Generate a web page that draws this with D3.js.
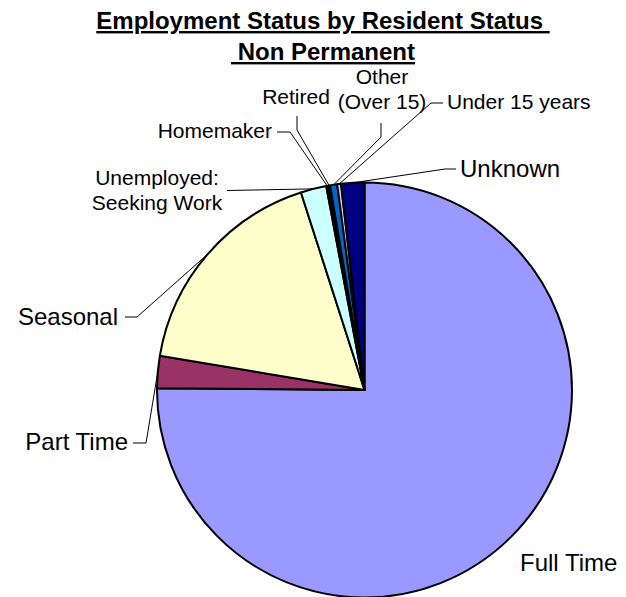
<!doctype html><html><head>
<style>
  body { margin: 0; background: #fff; }
  text { font-family: "Liberation Sans", Arial, sans-serif; fill: #000; }
</style>
</head><body><script src='https://d3js.org/d3.v7.min.js'></script>

<script>
// Size of the page
const width = 626, height = 597;

// Data (percent of non permanent residents)
const categories = ["Full Time", "Part Time", "Seasonal", "Unemployed: Seeking Work",
                    "Homemaker", "Retired", "Other (Over 15)", "Under 15 years", "Unknown"];
const values     = [75.1, 2.5, 17.4, 2.0, 0.15, 0.15, 0.55, 0.3, 1.8];
const colors     = ["#9999FF", "#993366", "#FFFFCC", "#CCFFFF",
                    "#660066", "#FF8080", "#0066CC", "#CCCCFF", "#000080"];
const titleLines = ["Employment Status by Resident Status ", " Non Permanent"];

// label layout: text lines, where they sit and the elbow of the leader line
const labelLayout = {
  "Full Time":                { lines: ["Full Time"], x: 520, y: 571, anchor: "start", big: true, leader: null },
  "Part Time":                { lines: ["Part Time"], x: 128, y: 450, anchor: "end", big: true, leader: [[133, 443], [146, 443]] },
  "Seasonal":                 { lines: ["Seasonal"], x: 118, y: 325, anchor: "end", big: true, leader: [[125, 317], [137, 317]] },
  "Unemployed: Seeking Work": { lines: ["Unemployed:", "Seeking Work"], x: 157, y: 185, anchor: "middle", big: false, leader: [[227, 190.5]] },
  "Homemaker":                { lines: ["Homemaker"], x: 272, y: 138, anchor: "end", big: false, leader: [[277, 132], [290, 132]] },
  "Retired":                  { lines: ["Retired"], x: 296, y: 104, anchor: "middle", big: false, leader: [[297, 116], [297, 130]] },
  "Other (Over 15)":          { lines: ["Other", "(Over 15)"], x: 382, y: 84, anchor: "middle", big: false, leader: [[381, 123], [381, 137]] },
  "Under 15 years":           { lines: ["Under 15 years"], x: 447, y: 109, anchor: "start", big: false, leader: [[443, 103], [431, 103]] },
  "Unknown":                  { lines: ["Unknown"], x: 460, y: 177, anchor: "start", big: true, leader: [[456, 169], [445, 169]] }
};

const cx = 364.5, cy = 390, radius = 207.5;

const svg = d3.select("body")
              .append("svg")
              .attr("width", width)
              .attr("height", height);

// Title
svg.append("g")
   .selectAll("text")
   .data(titleLines)
   .join("text")
   .attr("x", 323)
   .attr("y", (d, i) => 29 + i * 31)
   .attr("text-anchor", "middle")
   .style("white-space", "pre")
   .style("font-weight", "bold")
   .style("font-size", "24px")
   .style("text-decoration", "underline")
   .text(d => d);

// Pie, starting at 12 o'clock going clockwise
const table = categories.map((c, i) => ({ name: c, value: values[i], color: colors[i] }));
const pie = d3.pie().sort(null).value(d => d.value);
const arcs = pie(table);

const arc = d3.arc().innerRadius(0).outerRadius(radius);
const edge = d3.arc().innerRadius(radius).outerRadius(radius);

const g = svg.append("g").attr("transform", `translate(${cx},${cy})`);

g.selectAll("path")
 .data(arcs)
 .join("path")
 .attr("d", arc)
 .attr("fill", d => d.data.color)
 .attr("stroke", "#000")
 .attr("stroke-width", 2)
 .attr("stroke-linejoin", "round");

// Leader lines
const line = d3.line();
arcs.forEach(a => {
  const lay = labelLayout[a.data.name];
  if (!lay.leader) return;
  const c = edge.centroid(a);
  const pts = lay.leader.concat([[cx + c[0], cy + c[1]]]);
  svg.append("path")
     .attr("d", line(pts))
     .attr("fill", "none")
     .attr("stroke", "#000")
     .attr("stroke-width", 1);
});

// Labels
arcs.forEach(a => {
  const lay = labelLayout[a.data.name];
  const size = lay.big ? 24 : 21;
  const t = svg.append("text")
               .attr("text-anchor", lay.anchor)
               .style("font-size", size + "px");
  lay.lines.forEach((s, i) => {
    t.append("tspan")
     .attr("x", lay.x)
     .attr("y", lay.y + i * 25)
     .text(s);
  });
});
</script></body></html>
